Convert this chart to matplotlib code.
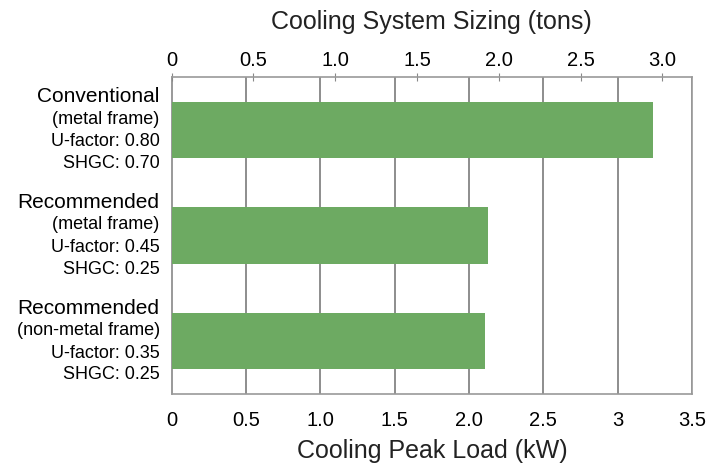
import matplotlib
matplotlib.use("Agg")
import matplotlib.pyplot as plt

plt.rcParams['font.family'] = ['Liberation Sans', 'DejaVu Sans']

categories = ["Conventional", "Recommended", "Recommended"]
frames = ["(metal frame)", "(metal frame)", "(non-metal frame)"]
ufactors = ["U-factor: 0.80", "U-factor: 0.45", "U-factor: 0.35"]
shgcs = ["SHGC: 0.70", "SHGC: 0.25", "SHGC: 0.25"]
peak_kw = [3.24, 2.13, 2.11]
kw_ticks = [0, 0.5, 1.0, 1.5, 2.0, 2.5, 3.0, 3.5]
kw_labels = ["0", "0.5", "1.0", "1.5", "2.0", "2.5", "3", "3.5"]
ton_ticks = [0, 0.5, 1.0, 1.5, 2.0, 2.5, 3.0]
ton_labels = ["0", "0.5", "1.0", "1.5", "2.0", "2.5", "3.0"]
KW_PER_TON = 1.1

fig = plt.figure(figsize=(7.24, 4.65), dpi=100)
ax = fig.add_axes([0.237, 0.1527, 0.719, 0.6817])

ypos = list(range(len(peak_kw)))
ax.barh(ypos, peak_kw, height=0.535, color="#6daa62", zorder=3)
ax.set_xlim(0, 3.5)
ax.set_ylim(2.5, -0.5)

ax.set_xticks(kw_ticks)
ax.set_xticklabels(kw_labels, fontsize=14.5)
ax.tick_params(axis='x', length=0, pad=12)
ax.set_yticks([])
for x in kw_ticks[1:]:
    ax.axvline(x, color="#6f6f6f", lw=1.1, zorder=1)
for s in ax.spines.values():
    s.set_color("#9a9a9a")
    s.set_linewidth(1.2)
ax.spines['left'].set_color("#888888")
ax.set_xlabel("Cooling Peak Load (kW)", fontsize=18, labelpad=7, color="#222222")

sec = ax.secondary_xaxis('top', functions=(lambda x: x / KW_PER_TON, lambda t: t * KW_PER_TON))
sec.set_xticks(ton_ticks)
sec.set_xticklabels(ton_labels, fontsize=14.5)
sec.tick_params(axis='x', direction='inout', length=6, color="#888888", pad=2)
sec.spines['top'].set_visible(False)
sec.set_xlabel("Cooling System Sizing (tons)", fontsize=18, labelpad=16, color="#222222")

tr = ax.get_yaxis_transform()
for i in ypos:
    ax.annotate(categories[i], xy=(0, i), xycoords=tr, xytext=(-8.6, 19.8),
                textcoords='offset points', ha='right', va='baseline', fontsize=15)
    ax.annotate(frames[i], xy=(0, i), xycoords=tr, xytext=(-8.6, 4.5),
                textcoords='offset points', ha='right', va='baseline', fontsize=13)
    ax.annotate(ufactors[i], xy=(0, i), xycoords=tr, xytext=(-8.6, -11.8),
                textcoords='offset points', ha='right', va='baseline', fontsize=13)
    ax.annotate(shgcs[i], xy=(0, i), xycoords=tr, xytext=(-8.6, -27.6),
                textcoords='offset points', ha='right', va='baseline', fontsize=13)

fig.savefig("out.png", dpi=100)
